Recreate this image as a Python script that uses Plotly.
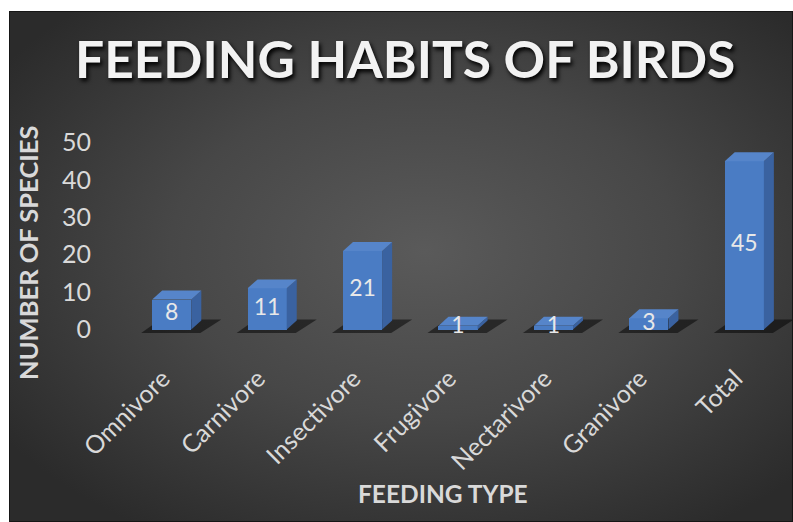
import base64
import plotly.graph_objects as go

categories = ["Omnivore", "Carnivore", "Insectivore", "Frugivore", "Nectarivore", "Granivore", "Total"]
values = [8, 11, 21, 1, 1, 3, 45]
y_ticks = [0, 10, 20, 30, 40, 50]
title_text = "FEEDING HABITS OF BIRDS"
x_title = "FEEDING TYPE"
y_title = "NUMBER OF SPECIES"

idx = list(range(len(categories)))

FRONT = "#4a7cc4"
SIDE = "#3a62a0"
TOP = "#5685ca"
FW = 0.41
HALF = FW / 2
DX = 0.105
DY = 2.4

# layout geometry (pixels)
W, H = 793, 522
ML, MR, MT, MB = 124, 1, 135, 185
PW = W - ML - MR
PH = H - MT - MB


def px_x(px):
    return (px - ML) / PW


def px_y(py):
    return (H - MB - py) / PH


fig = go.Figure()

# front faces
fig.add_trace(go.Bar(x=idx, y=values, width=FW, marker=dict(color=FRONT, line=dict(width=0)),
                     hoverinfo="skip", showlegend=False))

# side faces and top faces
for i, v in zip(idx, values):
    fig.add_trace(go.Scatter(
        x=[i + HALF, i + HALF + DX, i + HALF + DX, i + HALF, i + HALF],
        y=[0, DY, v + DY, v, 0],
        fill="toself", fillcolor=SIDE, mode="lines", line=dict(width=0),
        hoverinfo="skip", showlegend=False))
    fig.add_trace(go.Scatter(
        x=[i - HALF, i + HALF, i + HALF + DX, i - HALF + DX, i - HALF],
        y=[v, v, v + DY, v + DY, v],
        fill="toself", fillcolor=TOP, mode="lines", line=dict(width=0),
        hoverinfo="skip", showlegend=False))

# value labels
fig.add_trace(go.Scatter(
    x=idx, y=[v / 2 for v in values], mode="text", text=[str(v) for v in values],
    textfont=dict(family="Lato", size=23, color="#e8e8e8"),
    hoverinfo="skip", showlegend=False))

# floor shadows (below traces)
shapes = []
for i, v in zip(idx, values):
    path = "M {a},{b} L {c},{b} L {d},{e} L {f},{e} Z".format(
        a=i - 0.32, b=-0.9, c=i + 0.30, d=i + 0.52, e=2.7, f=i - 0.12)
    shapes.append(dict(type="path", xref="x", yref="y", path=path,
                       fillcolor="rgba(0,0,0,0.5)", line=dict(width=0), layer="below"))

# background with radial gradient
bx0, by0, bx1, by1 = 9, 11, 793, 522
svg = (
    '<svg xmlns="http://www.w3.org/2000/svg" width="{w}" height="{h}">'
    '<defs><radialGradient id="g" cx="0.53" cy="0.47" r="0.65">'
    '<stop offset="0" stop-color="#5a5a5a"/>'
    '<stop offset="0.5" stop-color="#474747"/>'
    '<stop offset="1" stop-color="#2b2b2b"/>'
    '</radialGradient></defs>'
    '<rect x="0.5" y="0.5" width="{w1}" height="{h1}" fill="url(#g)" stroke="#161616" stroke-width="1"/>'
    '</svg>'
).format(w=bx1 - bx0, h=by1 - by0, w1=bx1 - bx0 - 1, h1=by1 - by0 - 1)
src = "data:image/svg+xml;base64," + base64.b64encode(svg.encode()).decode()

tick_text = [c + "\u00a0\u00a0" for c in categories]

fig.update_layout(
    width=W, height=H,
    margin=dict(l=ML, r=MR, t=MT, b=MB, pad=0),
    paper_bgcolor="white",
    plot_bgcolor="rgba(0,0,0,0)",
    shapes=shapes,
    images=[dict(source=src, xref="paper", yref="paper",
                 x=px_x(bx0), y=px_y(by0),
                 sizex=(bx1 - bx0) / PW, sizey=(by1 - by0) / PH,
                 xanchor="left", yanchor="top", sizing="stretch", layer="below")],
    bargap=0,
    xaxis=dict(range=[-0.5, 6.5], tickvals=idx, ticktext=tick_text, tickangle=-45,
               tickfont=dict(family="Lato", size=25, color="#d9d9d9"),
               showgrid=False, zeroline=False, showline=False, ticks="",
               ticklabelstandoff=12, fixedrange=True),
    yaxis=dict(range=[-2, 52], tickvals=y_ticks,
               tickfont=dict(family="Lato", size=25, color="#d9d9d9"),
               showgrid=False, zeroline=False, showline=False, ticks="",
               ticklabelstandoff=32, fixedrange=True),
    annotations=[
        dict(text="<b>" + title_text + "</b>", xref="paper", yref="paper",
             x=px_x(405), y=px_y(58), xanchor="center", yanchor="middle", showarrow=False,
             font=dict(family="Lato", size=51.5, color="#f2f2f2", shadow="2px 3px 4px #000000")),
        dict(text="<b>" + y_title + "</b>", xref="paper", yref="paper",
             x=px_x(28), y=px_y(253), xanchor="center", yanchor="middle", showarrow=False,
             textangle=-90, font=dict(family="Lato", size=25.5, color="#d9d9d9")),
        dict(text="<b>" + x_title + "</b>", xref="paper", yref="paper",
             x=px_x(443), y=px_y(493), xanchor="center", yanchor="middle", showarrow=False,
             font=dict(family="Lato", size=24.5, color="#d9d9d9")),
    ],
)

fig.write_html("out.html")
